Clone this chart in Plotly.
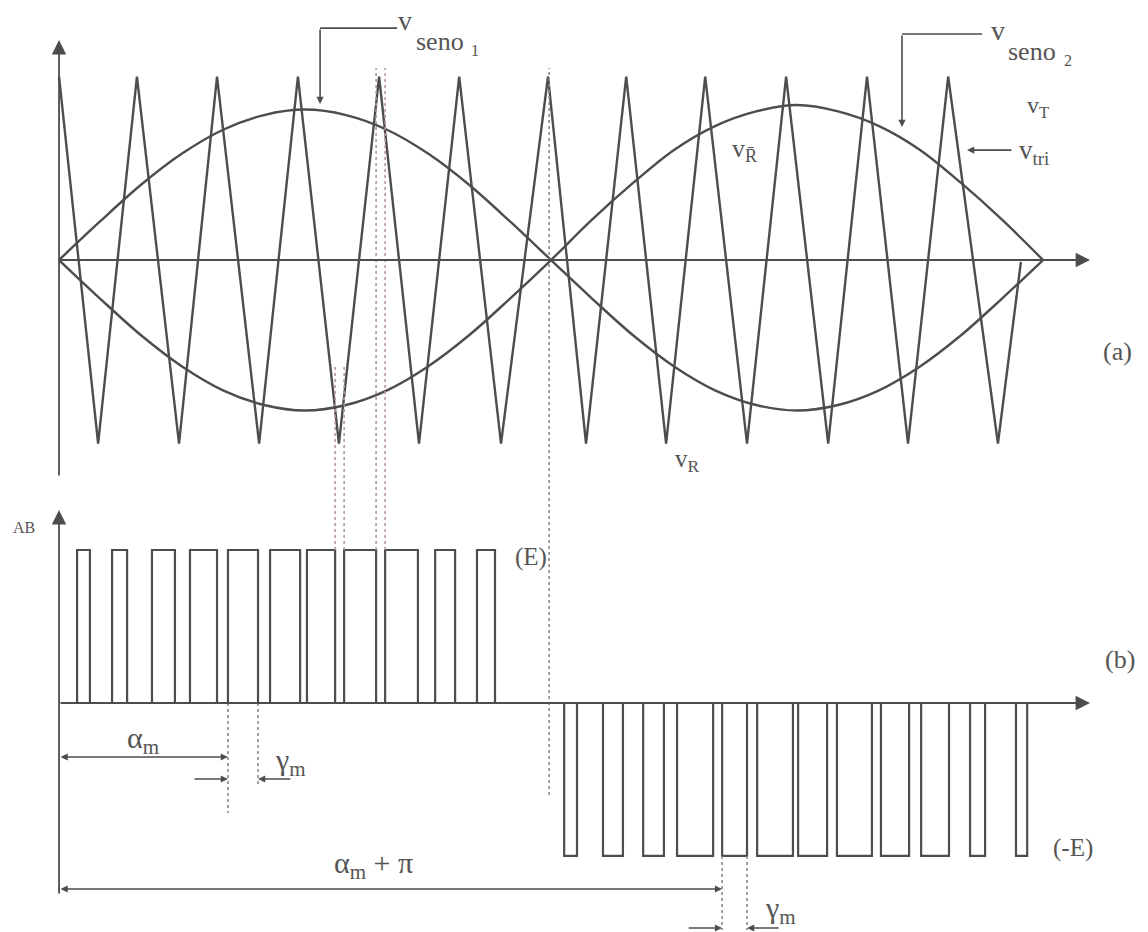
import plotly.graph_objects as go

# x axis: electrical angle wt in degrees, y: per-unit (triangle peak = 1, E = 1)
tri_deg = [0, 14.3, 28.5, 43.9, 57.8, 73.2, 87.4, 102.4, 117.1, 131.7, 146.4, 161.7,
           178.9, 192.8, 207.5, 222.1, 236.4, 251.7, 266.0, 281.4, 295.6, 310.6, 325.3,
           343.5, 351.9]
tri_val = [1, -1, 1, -1, 1, -1, 1, -1, 1, -1, 1, -1,
           1, -1, 1, -1, 1, -1, 1, -1, 1, -1, 1,
           -1, -0.01]

sine_deg = [0, 15, 30, 45, 60, 75, 90, 105, 120, 135, 150, 165, 180,
            195, 210, 225, 240, 255, 270, 285, 300, 315, 330, 345, 360]
seno1 = [0, 0.21, 0.41, 0.58, 0.71, 0.79, 0.82, 0.79, 0.71, 0.58, 0.41, 0.21, 0,
         -0.21, -0.41, -0.58, -0.71, -0.79, -0.82, -0.79, -0.71, -0.58, -0.41, -0.21, 0]
seno2 = [0, -0.21, -0.41, -0.58, -0.71, -0.79, -0.82, -0.79, -0.71, -0.58, -0.41, -0.21, 0,
         0.22, 0.42, 0.60, 0.73, 0.81, 0.845, 0.81, 0.73, 0.60, 0.42, 0.22, 0]

# vAB pulses: switching angles (deg)
pos_rise = [6.6, 19.4, 34.0, 47.9, 61.8, 77.2, 90.7, 104.3, 119.3, 137.6, 152.9]
pos_fall = [11.3, 24.9, 42.4, 57.8, 72.8, 88.2, 101.0, 116.0, 131.3, 144.9, 159.5]
neg_rise = [184.8, 199.0, 213.7, 226.1, 242.6, 255.4, 270.4, 284.6, 300.7, 315.4, 333.3, 350.1]
neg_fall = [189.5, 206.3, 221.3, 239.3, 251.7, 268.5, 281.0, 297.4, 311.0, 325.6, 338.8, 354.2]

INK = "#4d4d4d"
TXT = "#555555"
PINK = "#b8979a"
SERIF = "Liberation Serif, Times New Roman, serif"


def pulse_outline(rises, falls, level):
    xs, ys = [], []
    for r, f in zip(rises, falls):
        xs += [r, r, f, f, None]
        ys += [0, level, level, 0, None]
    return xs, ys


fig = go.Figure()

line_style = dict(color=INK, width=2.4)
fig.add_trace(go.Scatter(x=tri_deg, y=tri_val, mode="lines", line=line_style, hoverinfo="skip"))
fig.add_trace(go.Scatter(x=sine_deg, y=seno1, mode="lines", line=dict(line_style, shape="spline"),
                         hoverinfo="skip"))
fig.add_trace(go.Scatter(x=sine_deg, y=seno2, mode="lines", line=dict(line_style, shape="spline"),
                         hoverinfo="skip"))

px_, py_ = pulse_outline(pos_rise, pos_fall, 1)
nx_, ny_ = pulse_outline(neg_rise, neg_fall, -1)
fig.add_trace(go.Scatter(x=px_ + nx_, y=py_ + ny_, yaxis="y2", mode="lines",
                         line=dict(color=INK, width=2.2), hoverinfo="skip"))


def arrow(x, y, ax, ay, yref="y", head=2, size=1.0, width=1.6, side="end"):
    fig.add_annotation(x=x, y=y, ax=ax, ay=ay, xref="x", yref=yref, axref="x", ayref=yref,
                       showarrow=True, arrowhead=head, arrowsize=size, arrowwidth=width,
                       arrowcolor=INK, arrowside=side, text="", standoff=0, startstandoff=0)


def label(x, y, s, size=24, yref="y", xanchor="center"):
    fig.add_annotation(x=x, y=y, xref="x", yref=yref, text=s, showarrow=False, xanchor=xanchor,
                       font=dict(family=SERIF, size=size, color=TXT))


def vline(x, y0, y1, color=PINK, yref="y2"):
    fig.add_shape(type="line", x0=x, x1=x, y0=y0, y1=y1, xref="x", yref=yref,
                  line=dict(color=color, width=1.6, dash="dot"))


# axes with arrowheads
arrow(0, 1.199, 0, -1.183, head=2, size=1.6, width=1.8)
arrow(377.2, 0, 0, 0, head=2, size=1.6, width=1.8)
arrow(0, 1.261, 0, -1.255, yref="y2", head=2, size=1.6, width=1.8)
arrow(377.2, 0, 0, 0, yref="y2", head=2, size=1.6, width=1.8)

# projection lines
vline(101.0, 1.0, 2.216)
vline(104.3, 1.0, 2.216)
vline(116.0, 1.0, 4.150)
vline(119.3, 1.0, 4.150)
vline(179.3, -0.601, 4.150, color="#8a8a8a")
vline(61.8, 0, -0.719, color="#8a8a8a")
vline(72.8, 0, -0.549, color="#8a8a8a")
vline(242.6, -1.0, -1.484, color="#8a8a8a")
vline(251.7, -1.0, -1.484, color="#8a8a8a")

# leaders for the curve names
fig.add_shape(type="line", x0=95.5, x1=123.7, y0=1.264, y1=1.264, xref="x", yref="y",
              line=dict(color=INK, width=1.6))
arrow(95.5, 0.850, 95.5, 1.264, size=0.9)
fig.add_shape(type="line", x0=308.4, x1=337.7, y0=1.232, y1=1.232, xref="x", yref="y",
              line=dict(color=INK, width=1.6))
arrow(308.4, 0.725, 308.4, 1.232, size=0.9)
arrow(332.2, 0.599, 349.0, 0.599, size=0.9)

# dimension arrows
arrow(61.8, -0.353, 0, -0.353, yref="y2", size=0.9, side="end+start")
arrow(61.8, -0.497, 49.0, -0.497, yref="y2", size=0.9)
arrow(72.8, -0.497, 85.2, -0.497, yref="y2", size=0.9)
arrow(242.6, -1.216, 0, -1.216, yref="y2", size=0.9, side="end+start")
arrow(242.6, -1.471, 229.8, -1.471, yref="y2", size=0.9)
arrow(251.7, -1.471, 263.8, -1.471, yref="y2", size=0.9)

# texts, panel (a)
label(126.5, 1.308, "v", 28)
label(139.3, 1.190, "seno", 26)
label(152.0, 1.140, "1", 16)
label(343.5, 1.253, "v", 28)
label(355.8, 1.135, "seno", 26)
label(369.3, 1.090, "2", 16)
label(358.2, 0.834, "v<sub>T</sub>", 24)
label(350.5, 0.589, "v<sub>tri</sub>", 27, xanchor="left")
label(251.0, 0.599, "v<sub>R\u0304</sub>", 26)
label(230.1, -1.090, "v<sub>R</sub>", 25)
label(387.1, -0.501, "(a)", 26)

# texts, panel (b)
label(388.2, 0.281, "(b)", 26, yref="y2")
label(166.1, 0.954, "(E)", 25, yref="y2", xanchor="left")
label(371.0, -0.948, "(-E)", 25, yref="y2")
label(-8.05, 1.150, "AB", 16, yref="y2", xanchor="right")
label(30.7, -0.242, "\u03b1<sub>m</sub>", 30, yref="y2")
label(84.5, -0.386, "\u03b3<sub>m</sub>", 30, yref="y2")
label(115.2, -1.059, "\u03b1<sub>m</sub> + \u03c0", 30, yref="y2")
label(263.8, -1.353, "\u03b3<sub>m</sub>", 30, yref="y2")

fig.update_layout(
    width=1148,
    height=932,
    margin=dict(l=0, r=0, t=0, b=0),
    plot_bgcolor="white",
    paper_bgcolor="white",
    showlegend=False,
    xaxis=dict(range=[-21.6, 398.4], visible=False, fixedrange=True),
    yaxis=dict(range=[-3.662, 1.417], visible=False, fixedrange=True, domain=[0, 1]),
    yaxis2=dict(range=[-1.497, 4.595], visible=False, fixedrange=True, overlaying="y"),
)

# drop the browser's default page margin so the figure sits at the window's corner
fig.write_html("out.html", config={"displayModeBar": False},
               post_script="document.body.style.margin = '0px';")
